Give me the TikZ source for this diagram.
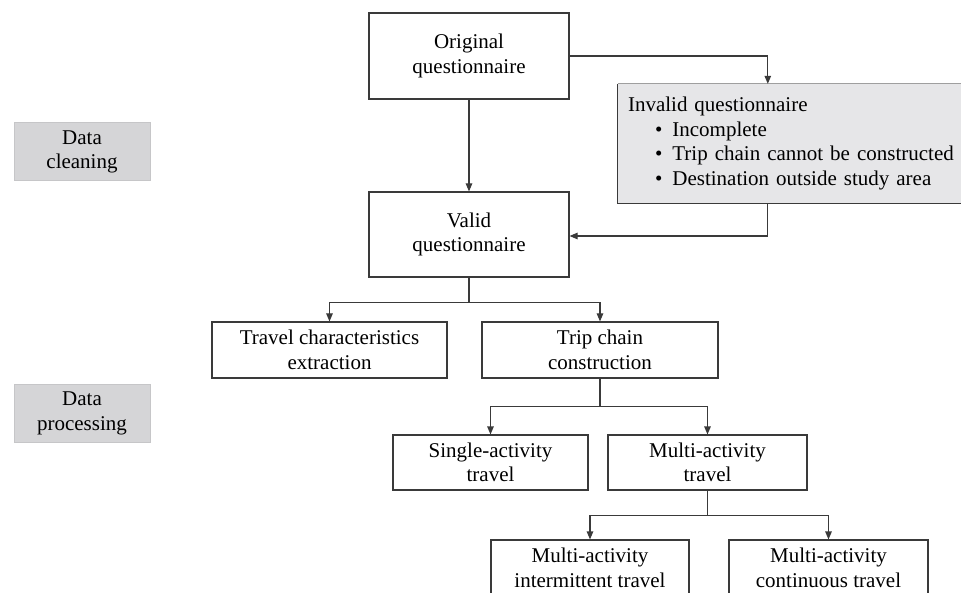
\documentclass[tikz,border=0pt]{standalone}
\usepackage{fontspec}
\setmainfont{Liberation Serif}
\usetikzlibrary{arrows.meta}
\definecolor{linec}{HTML}{3A3A3A}
\definecolor{labfill}{HTML}{D5D5D7}
\definecolor{labdraw}{HTML}{C6C6C8}
\definecolor{invfill}{HTML}{E6E6E8}
\tikzset{
  box/.style={draw=linec, line width=1.1pt, rectangle, align=center, inner sep=0pt, fill=white},
  labbox/.style={draw=labdraw, line width=1pt, fill=labfill, rectangle, align=center, inner sep=0pt, minimum width=136pt, minimum height=58pt},
  arr/.style={draw=linec, line width=1.1pt, -{Triangle[length=8pt,width=6.5pt]}},
  ln/.style={draw=linec, line width=1.1pt}
}
\begin{document}
\begin{tikzpicture}[x=1pt,y=-1pt,font=\fontsize{21}{24.5}\selectfont]
\useasboundingbox (0,0) rectangle (961,593);
\clip (0,0) rectangle (961,593);
% side labels
\node[labbox] (clean) at (82,152) {Data\\cleaning};
\node[labbox] (proc) at (82,413.5) {Data\\processing};
% main boxes
\node[box, minimum width=200pt, minimum height=86pt] (orig) at (469,56) {Original\\questionnaire};
\node[box, minimum width=200pt, minimum height=85pt] (valid) at (469,234.5) {Valid\\questionnaire};
\node[fill=invfill, rectangle, inner sep=0pt, minimum width=357pt, minimum height=119pt,
      text width=337pt, align=left] (invalid) at (796.5,143.5)
  {Invalid questionnaire\\
   \hspace*{27pt}\textbullet\hspace{10pt}Incomplete\\
   \hspace*{27pt}\textbullet\hspace{10pt}Trip chain cannot be constructed\\
   \hspace*{27pt}\textbullet\hspace{10pt}Destination outside study area};
\draw[draw=gray!75, line width=1.1pt] (invalid.north west) -- (invalid.north east);
\draw[ln] (invalid.north west) -- (invalid.south west) -- (invalid.south east);
\node[box, minimum width=235pt, minimum height=56pt] (travel) at (329.5,350) {Travel characteristics\\extraction};
\node[box, minimum width=236pt, minimum height=56pt] (trip) at (600,350) {Trip chain\\construction};
\node[box, minimum width=195pt, minimum height=55pt] (single) at (490.5,462.5) {Single-activity\\travel};
\node[box, minimum width=199pt, minimum height=55pt] (multi) at (707.5,462.5) {Multi-activity\\travel};
\node[box, minimum width=198pt, minimum height=56pt] (inter) at (590,568) {Multi-activity\\intermittent travel};
\node[box, minimum width=199pt, minimum height=56pt] (cont) at (828.5,568) {Multi-activity\\continuous travel};
% connectors
\draw[arr] (orig.south) -- (valid.north);
\draw[arr] (orig.east) -| ([xshift=150pt]invalid.north west);
\draw[arr] ([xshift=150pt]invalid.south west) |- ([yshift=-1.5pt]valid.east);
\draw[ln] (valid.south) -- ++(0,25) coordinate (v1);
\draw[arr] (v1) -| (travel.north);
\draw[arr] (v1) -| (trip.north);
\draw[ln] (trip.south) -- ++(0,28) coordinate (t1);
\draw[arr] (t1) -| (single.north);
\draw[arr] (t1) -| (multi.north);
\draw[ln] (multi.south) -- ++(0,25) coordinate (m1);
\draw[arr] (m1) -| (inter.north);
\draw[arr] (m1) -| (cont.north);
\end{tikzpicture}
\end{document}
